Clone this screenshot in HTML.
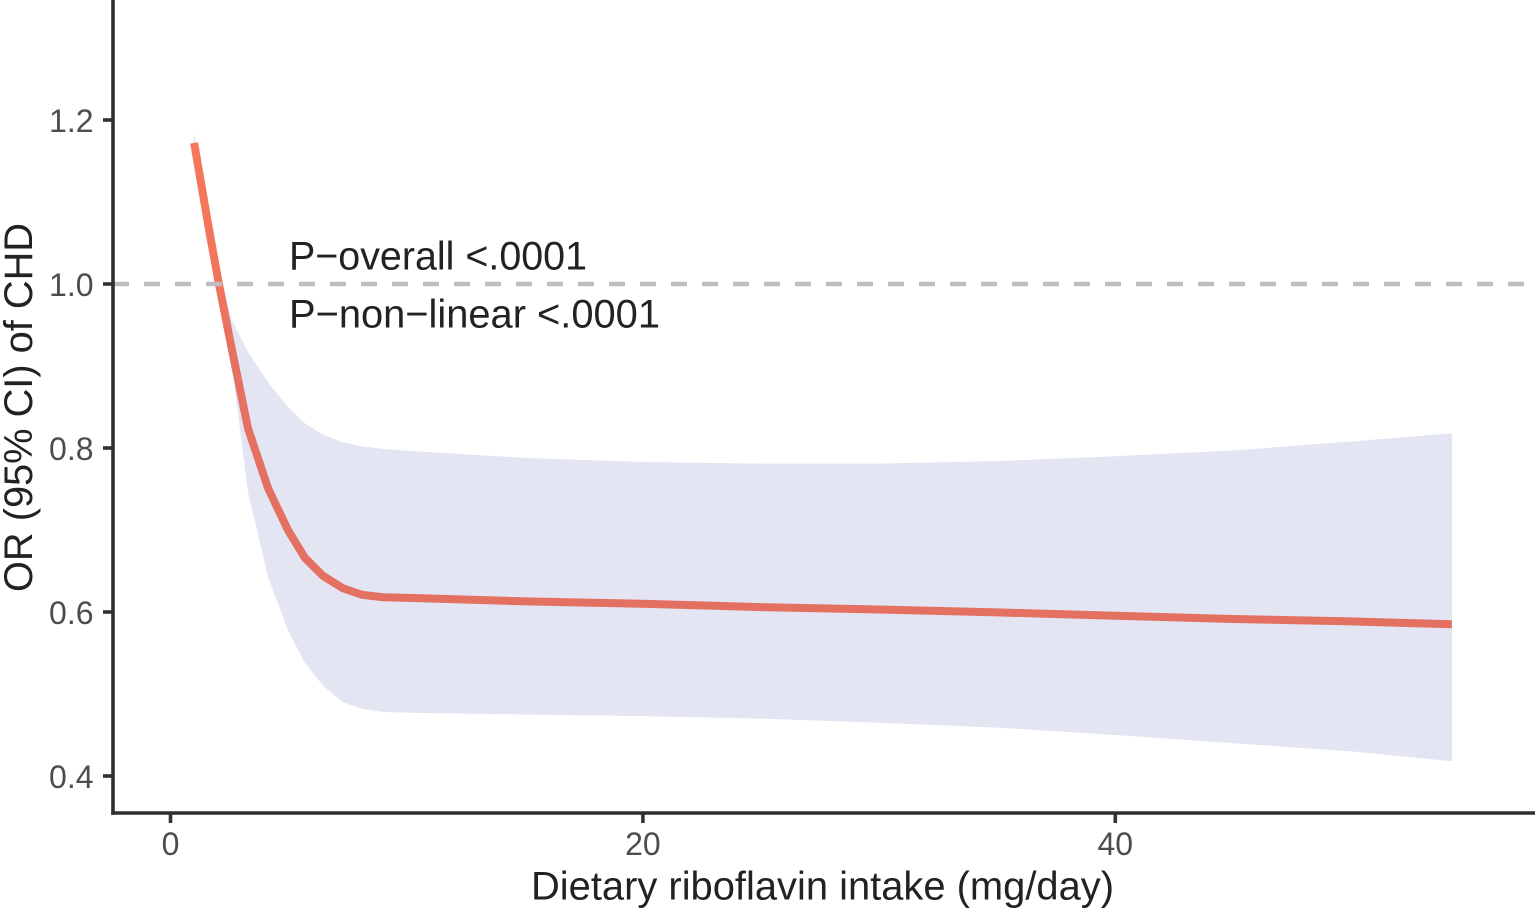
<!DOCTYPE html>
<html lang="en">
<head>
<meta charset="utf-8">
<title>Dietary riboflavin intake and OR of CHD</title>
<style>
  html, body { margin: 0; padding: 0; background: #fff; }
  svg { display: block; font-family: "Liberation Sans", Arial, sans-serif; }
</style>
</head>
<body>
<svg id="chart" width="1535" height="912" viewBox="0 0 1535 912" xmlns="http://www.w3.org/2000/svg">
  <defs>
    <linearGradient id="line-colour" gradientUnits="objectBoundingBox" x1="0" y1="0" x2="0" y2="1">
      <stop offset="0" stop-color="#f6775a"/>
      <stop offset="0.3" stop-color="#f0745c"/>
      <stop offset="0.42" stop-color="#e57162"/>
      <stop offset="1" stop-color="#e37061"/>
    </linearGradient>
  </defs>
  <rect width="1535" height="912" fill="#ffffff"/>
  <g id="marks"></g>
  <g id="axes"></g>
  <text x="531" y="899.5" font-size="39.5" fill="#222222" textLength="583" lengthAdjust="spacingAndGlyphs">Dietary riboflavin intake (mg/day)</text>
  <text transform="translate(32 592) rotate(-90)" x="0" y="0" font-size="40" fill="#222222" textLength="369" lengthAdjust="spacingAndGlyphs">OR (95% CI) of CHD</text>
  <text x="289" y="269.5" font-size="40" fill="#222222" textLength="298" lengthAdjust="spacingAndGlyphs">P−overall &lt;.0001</text>
  <text x="289" y="327.5" font-size="40" fill="#222222" textLength="371" lengthAdjust="spacingAndGlyphs">P−non−linear &lt;.0001</text>
</svg>
<script>
const xValues = [1, 1.67, 2.05, 2.6, 3.28, 4.13, 4.97, 5.69, 6.46, 7.3, 8.1, 9, 10.3, 15, 20, 25, 30, 35, 40, 45, 50, 54.25];
const orValues = [1.172, 1.06, 1.0, 0.92, 0.824, 0.751, 0.70, 0.666, 0.644, 0.629, 0.621, 0.618, 0.617, 0.613, 0.610, 0.606, 0.603, 0.5995, 0.5955, 0.5915, 0.5885, 0.585];
const upperValues = [1.185, 1.07, 1.012, 0.956, 0.917, 0.880, 0.85, 0.83, 0.816, 0.807, 0.802, 0.799, 0.796, 0.788, 0.783, 0.781, 0.781, 0.784, 0.79, 0.797, 0.808, 0.818];
const lowerValues = [1.15, 1.045, 0.985, 0.90, 0.746, 0.643, 0.578, 0.538, 0.51, 0.49, 0.482, 0.478, 0.477, 0.475, 0.473, 0.470, 0.465, 0.459, 0.45, 0.44, 0.43, 0.418];
const xTicks = [0, 20, 40];
const xTickLabels = ["0", "20", "40"];
const yTicks = [0.4, 0.6, 0.8, 1.0, 1.2];
const yTickLabels = ["0.4", "0.6", "0.8", "1.0", "1.2"];
const referenceValue = 1.0;

const NS = "http://www.w3.org/2000/svg";
const scaleX = function (v) { return 170.5 + v * 23.62; };
const scaleY = function (v) { return 284 + (1 - v) * 820; };
const axisLeft = 113;
const axisBottom = 813;
const marks = document.getElementById("marks");
const axes = document.getElementById("axes");

function makeEl(tag, attrs, parent) {
  const el = document.createElementNS(NS, tag);
  Object.keys(attrs).forEach(function (k) { el.setAttribute(k, attrs[k]); });
  parent.appendChild(el);
  return el;
}
function toPoints(xs, ys) {
  return xs.map(function (x, i) { return scaleX(x).toFixed(2) + "," + scaleY(ys[i]).toFixed(2); });
}

const bandPts = toPoints(xValues, upperValues).concat(toPoints(xValues, lowerValues).reverse());
const band = makeEl("polygon", { points: bandPts.join(" "), fill: "#e3e5f3" }, marks);



const line = makeEl("polyline", {
  points: toPoints(xValues, orValues).join(" "),
  fill: "none",
  stroke: "url(#line-colour)",
  "stroke-width": 8,
  "stroke-linejoin": "round"
}, marks);



const refLine = makeEl("line", {
  x1: axisLeft, x2: 1535,
  y1: scaleY(referenceValue), y2: scaleY(referenceValue),
  stroke: "#bebebe", "stroke-width": 4.5, "stroke-dasharray": "16 15"
}, marks);



yTicks.forEach(function (v, i) {
  const tick = makeEl("line", { x1: 103, x2: axisLeft, y1: scaleY(v), y2: scaleY(v), stroke: "#333333", "stroke-width": 3.6 }, axes);
  
  
  const label = makeEl("text", { x: 93.5, y: scaleY(v) + 12, "text-anchor": "end", "font-size": 32, fill: "#4d4d4d" }, axes);
  label.textContent = yTickLabels[i];
  
  
});

xTicks.forEach(function (v, i) {
  const tick = makeEl("line", { x1: scaleX(v), x2: scaleX(v), y1: axisBottom, y2: 823, stroke: "#333333", "stroke-width": 3.6 }, axes);
  
  
  const label = makeEl("text", { x: scaleX(v), y: 855, "text-anchor": "middle", "font-size": 32, fill: "#4d4d4d" }, axes);
  label.textContent = xTickLabels[i];
  
  
});

const yAxis = makeEl("line", { x1: axisLeft, x2: axisLeft, y1: 0, y2: axisBottom + 1.8, stroke: "#2f2f2f", "stroke-width": 3.6 }, axes);



const xAxis = makeEl("line", { x1: axisLeft - 1.8, x2: 1535, y1: axisBottom, y2: axisBottom, stroke: "#2f2f2f", "stroke-width": 3.6 }, axes);


</script>
</body>
</html>
